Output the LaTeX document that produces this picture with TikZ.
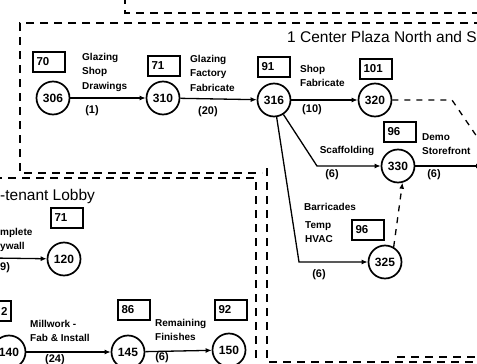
\documentclass[tikz,border=0pt]{standalone}
\usepackage{fontspec}
\setmainfont{Liberation Sans}
\usetikzlibrary{arrows.meta}
\begin{document}
\begin{tikzpicture}[x=1pt,y=-1pt,
  evt/.style={circle,draw,line width=1.7pt,minimum size=33pt,inner sep=0pt,font=\fontsize{12}{13}\bfseries\selectfont},
  numbox/.style={draw,line width=1.6pt,minimum width=32pt,minimum height=20pt,inner sep=3pt,text width=25pt,align=left,font=\fontsize{11.5}{12}\bfseries\selectfont},
  act/.style={line width=1.3pt,-{Latex[length=6pt,width=5pt]}},
  dep/.style={line width=1.3pt,dash pattern=on 6pt off 6pt},
  zone/.style={line width=1.8pt,dash pattern=on 8pt off 6pt},
  lbl/.style={font=\fontsize{10}{14.5}\bfseries\selectfont,align=left,inner sep=0pt},
  dur/.style={font=\fontsize{11}{12}\bfseries\selectfont,inner sep=0pt},
  ttl/.style={font=\fontsize{15.5}{17}\selectfont,inner sep=0pt}
]
\useasboundingbox (0,0) rectangle (477,364);
\clip (0,0) rectangle (477,364);

% dashed zone outlines
\draw[zone] (125,-4) -- (125,13) -- (482,13);
\draw[zone] (482,23) -- (20,23) -- (20,173) -- (262,173);
\draw[zone] (267,168) -- (267,362) -- (482,362);
\draw[zone] (-6,178) -- (256,178) -- (256,368);
\draw[zone] (397,357) -- (482,357);

% events
\node[evt] (n306) at (53,98) {306};
\node[evt] (n310) at (163,98) {310};
\node[evt] (n316) at (274,100) {316};
\node[evt] (n320) at (375,100) {320};
\node[evt] (n330) at (398,166) {330};
\node[evt] (n325) at (385,262) {325};
\node[evt] (n120) at (64,259) {120};
\node[evt] (n140) at (9,352) {140};
\node[evt] (n145) at (128,352) {145};
\node[evt] (n150) at (229,350) {150};

% boxes
\node[numbox] (b70) at (49,62) {70};
\node[numbox] (b71a) at (164,66) {71};
\node[numbox] (b91) at (274,67) {91};
\node[numbox] (b101) at (376,69) {101};
\node[numbox] (b96a) at (400,132) {96};
\node[numbox] (b96b) at (368,230) {96};
\node[numbox] (b71b) at (67,218) {71};
\node[numbox,align=right] (b82) at (-5,311) {2};
\node[numbox] (b86) at (134,310) {86};
\node[numbox] (b92) at (231,310) {92};

% labels
\node[lbl,anchor=west] (l1) at (82,72) {Glazing\\Shop\\Drawings};
\node[dur] (d1) at (92,111) {(1)};
\node[lbl,anchor=west] (l2) at (190,73) {Glazing\\Factory\\Fabricate};
\node[dur] (d2) at (208,112) {(20)};
\node[lbl,anchor=west] (l3) at (300,76) {Shop\\Fabricate};
\node[dur] (d3) at (312,110) {(10)};
\node[lbl] (l4) at (347,151) {Scaffolding};
\node[dur] (d4) at (332,175) {(6)};
\node[lbl,anchor=west] (l5) at (422,144) {Demo\\Storefront};
\node[dur] (d5) at (434,175) {(6)};
\node[lbl,anchor=west] (l6) at (304,207) {Barricades};
\node[lbl,anchor=west] (l7) at (305,232) {Temp\\HVAC};
\node[dur] (d6) at (319,275) {(6)};
\node[lbl,anchor=west] (l8) at (0,240) {mplete\\ywall};
\node[dur,anchor=west] (d7) at (0,268) {9)};
\node[lbl,anchor=west] (l9) at (30,331) {Millwork -\\Fab \& Install};
\node[dur] (d8) at (55,360) {(24)};
\node[lbl,anchor=west] (l10) at (155,330) {Remaining\\Finishes};
\node[dur] (d9) at (162,358) {(6)};
\node[ttl,anchor=base west] (t1) at (287,42) {1 Center Plaza North and S};
\node[ttl,anchor=base west] (t2) at (0,200) {-tenant Lobby};

% connector helpers
\coordinate (inC) at (-8,258);
\coordinate (outA) at (482,166);
\coordinate (outB) at (486,150);
\coordinate (k1) at (317,166);
\coordinate (k2) at (299,262);
\coordinate (k3) at (452,100);

% activities
\draw[act] (n306) -- (n310);
\draw[act] (n310) -- (n316);
\draw[act] (n316) -- (n320);
\draw[act] (n316) -- (k1) -- (n330);
\draw[act] (n316) -- (k2) -- (n325);
\draw[act] (n330) -- (outA);
\draw[dep,-{Latex[length=6pt,width=5pt]}] (n325.60) -- (n330.-75);
\draw[dep] (n320) -- (k3) -- (outB);
\draw[act] (inC) -- (n120);
\draw[act] (n140) -- (n145);
\draw[act] (n145) -- (n150);
\end{tikzpicture}
\end{document}
